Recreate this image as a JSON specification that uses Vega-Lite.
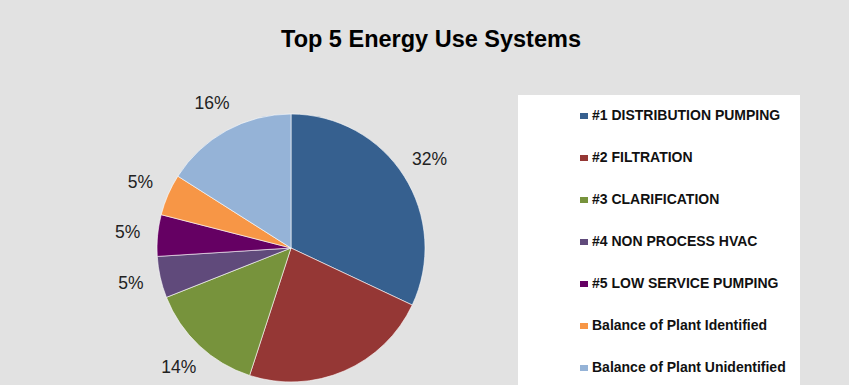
{
  "$schema": "https://vega.github.io/schema/vega-lite/v6.json",
  "width": 582,
  "height": 274,
  "autosize": {"type": "none"},
  "padding": {"left": 0, "top": 111, "right": 267, "bottom": 0},
  "background": "#e2e2e2",
  "title": {
    "text": "Top 5 Energy Use Systems",
    "font": "Liberation Sans",
    "fontSize": 23.5,
    "fontWeight": "bold",
    "color": "#000000",
    "anchor": "middle",
    "frame": "group",
    "dx": 140,
    "offset": 44
  },
  "data": {
    "values": [
      {"system": "#1 DISTRIBUTION PUMPING", "share": 0.32, "idx": 1},
      {"system": "#2 FILTRATION", "share": 0.23, "idx": 2},
      {"system": "#3 CLARIFICATION", "share": 0.14, "idx": 3},
      {"system": "#4 NON PROCESS HVAC", "share": 0.05, "idx": 4},
      {"system": "#5 LOW SERVICE PUMPING", "share": 0.05, "idx": 5},
      {"system": "Balance of Plant Identified", "share": 0.05, "idx": 6},
      {"system": "Balance of Plant Unidentified", "share": 0.16, "idx": 7}
    ]
  },
  "layer": [
    {
      "mark": {"type": "arc", "outerRadius": 134, "stroke": "#ffffff", "strokeWidth": 0.6},
      "encoding": {
        "theta": {"field": "share", "type": "quantitative", "stack": true},
        "order": {"field": "idx", "type": "quantitative"},
        "color": {
          "field": "system",
          "type": "nominal",
          "sort": null,
          "scale": {
            "domain": ["#1 DISTRIBUTION PUMPING", "#2 FILTRATION", "#3 CLARIFICATION", "#4 NON PROCESS HVAC", "#5 LOW SERVICE PUMPING", "Balance of Plant Identified", "Balance of Plant Unidentified"],
            "range": ["#36608F", "#953735", "#77933C", "#604A7B", "#650063", "#F79646", "#95B3D7"]
          },
          "legend": {
            "orient": "none",
            "legendX": 518,
            "legendY": -16,
            "title": null
          }
        }
      }
    },
    {
      "mark": {"type": "text", "radius": 164, "font": "Liberation Sans", "fontSize": 17.5, "fill": "#222222"},
      "encoding": {
        "theta": {"field": "share", "type": "quantitative", "stack": true},
        "order": {"field": "idx", "type": "quantitative"},
        "text": {"field": "share", "type": "quantitative", "format": ".0%"}
      }
    }
  ],
  "config": {
    "view": {"stroke": null},
    "legend": {
      "fillColor": "#ffffff",
      "padding": 14,
      "symbolOffset": 45,
      "symbolType": "M-1,-0.75H1V0.75H-1Z",
      "symbolSize": 64,
      "symbolStrokeWidth": 0,
      "labelFont": "Liberation Sans",
      "labelFontSize": 14,
      "labelFontWeight": "bold",
      "labelColor": "#111111",
      "labelOffset": 1,
      "rowPadding": 28,
      "labelLimit": 400
    }
  }
}
